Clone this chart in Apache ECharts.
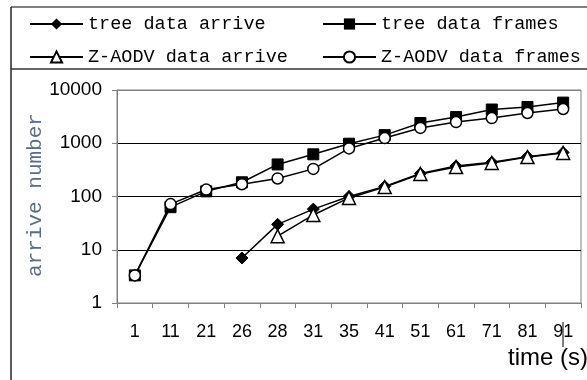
<!DOCTYPE html>
<html>
<head>
<meta charset="utf-8">
<script src="https://cdn.jsdelivr.net/npm/echarts@6/dist/echarts.min.js"></script>
<style>
  html, body { margin: 0; padding: 0; background: #fff; }
  #chart { width: 587px; height: 380px; }
</style>
</head>
<body>
<div id="chart"></div>
<script>
const times = ["1", "11", "21", "26", "28", "31", "35", "41", "51", "61", "71", "81", "91"];
const treeArrive = [null, null, null, 7, 30, 58, 100, 155, 270, 375, 440, 560, 670];
const treeFrames = [3.3, 63, 125, 185, 400, 620, 980, 1420, 2400, 3100, 4300, 4800, 5800];
const zArrive = [null, null, null, null, 18, 45, 94, 150, 265, 357, 425, 550, 655];
const zFrames = [3.3, 72, 135, 170, 218, 330, 800, 1250, 1940, 2500, 2970, 3700, 4400];
const yTicks = [1, 10, 100, 1000, 10000];

const chart = echarts.init(document.getElementById("chart"), null, { renderer: "canvas" });

const legendFont = {
  fontFamily: "Liberation Mono, monospace",
  fontSize: 18.5,
  color: "#000",
  lineHeight: 20,
};

// one legend per item, placed like the boxed legend of the original
function legendAt(name, left, top) {
  return {
    data: [name],
    left: left,
    top: top,
    padding: 0,
    itemWidth: 53,
    itemHeight: 14,
    itemGap: 0,
    selectedMode: false,
    textStyle: legendFont,
  };
}

const seriesBase = {
  type: "line",
  connectNulls: false,
  animation: false,
  lineStyle: { color: "#000", width: 1.5 },
  emphasis: { disabled: true },
};

const option = {
  backgroundColor: "#fff",
  animation: false,
  grid: {
    left: 117,
    right: 6,
    top: 90,
    bottom: 77,
    show: true,
    borderColor: "#808080",
    borderWidth: 1,
  },
  legend: [
    legendAt("tree data arrive", 29, 14),
    legendAt("tree data frames", 322, 14),
    legendAt("Z-AODV data arrive", 29, 47),
    legendAt("Z-AODV data frames", 322, 47),
  ],
  xAxis: {
    type: "category",
    data: times,
    boundaryGap: true,
    axisLine: { show: true, lineStyle: { color: "#808080", width: 1 } },
    axisTick: { show: true, length: 5, lineStyle: { color: "#808080" } },
    axisLabel: {
      margin: 20,
      fontFamily: "Liberation Sans, Arial, sans-serif",
      fontSize: 18,
      color: "#000",
      interval: 0,
    },
    splitLine: { show: false },
  },
  yAxis: {
    type: "log",
    logBase: 10,
    min: yTicks[0],
    max: yTicks[yTicks.length - 1],
    axisLine: { show: true, lineStyle: { color: "#808080", width: 1 } },
    axisTick: { show: true, length: 5, lineStyle: { color: "#808080" } },
    axisLabel: {
      margin: 15,
      fontFamily: "Liberation Sans, Arial, sans-serif",
      fontSize: 19,
      color: "#000",
      formatter: (v) => String(Math.round(v)),
    },
    splitLine: {
      show: true,
      lineStyle: { color: ["#808080", "#000", "#000", "#000", "#808080"], width: 1 },
    },
  },
  series: [
    {
      ...seriesBase,
      name: "tree data arrive",
      data: treeArrive,
      symbol: "diamond",
      symbolSize: 12,
      itemStyle: { color: "#000", borderColor: "#000" },
    },
    {
      ...seriesBase,
      name: "tree data frames",
      data: treeFrames,
      symbol: "rect",
      symbolSize: 11,
      itemStyle: { color: "#000", borderColor: "#000" },
    },
    {
      ...seriesBase,
      name: "Z-AODV data arrive",
      data: zArrive,
      symbol: "triangle",
      symbolSize: 13,
      itemStyle: { color: "#fff", borderColor: "#000", borderWidth: 1.5 },
    },
    {
      ...seriesBase,
      name: "Z-AODV data frames",
      data: zFrames,
      symbol: "circle",
      symbolSize: 11,
      itemStyle: { color: "#fff", borderColor: "#000", borderWidth: 1.5 },
    },
  ],
  graphic: [
    { type: "line", shape: { x1: 11, y1: 7, x2: 587, y2: 7 }, style: { stroke: "#555", lineWidth: 1.5 } },
    { type: "line", shape: { x1: 11, y1: 7, x2: 11, y2: 380 }, style: { stroke: "#222", lineWidth: 1.5 } },
    { type: "line", shape: { x1: 11, y1: 69, x2: 587, y2: 69 }, style: { stroke: "#333", lineWidth: 1.5 } },
    {
      type: "text",
      x: 35,
      y: 195,
      rotation: Math.PI / 2,
      style: {
        text: "arrive number",
        fontFamily: "Liberation Mono, monospace",
        fontSize: 21,
        fill: "#5b6d85",
        textAlign: "center",
        textVerticalAlign: "middle",
      },
    },
    {
      type: "text",
      x: 508,
      y: 358,
      style: {
        text: "time (s)",
        fontFamily: "Liberation Sans, Arial, sans-serif",
        fontSize: 24,
        fill: "#000",
        textAlign: "left",
        textVerticalAlign: "middle",
      },
    },
    { type: "line", shape: { x1: 563, y1: 322, x2: 563, y2: 347 }, style: { stroke: "#000", lineWidth: 1 } },
  ],
};

chart.setOption(option);
</script>
</body>
</html>
